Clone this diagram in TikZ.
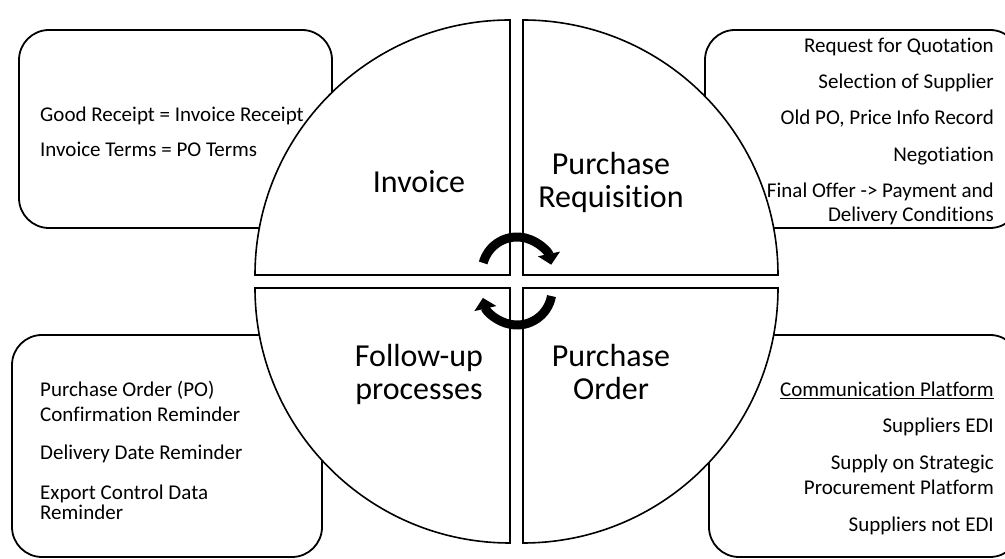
\documentclass[tikz,border=0pt]{standalone}
\usepackage{fontspec}
\setmainfont{Carlito}[Ligatures={NoCommon}]
\usetikzlibrary{arrows.meta}

\tikzset{
	infobox/.style={draw=black, line width=1.8pt, rounded corners=30pt},
	quarter/.style={draw=black, line width=1.6pt, fill=white},
	stage/.style={font=\fontsize{32}{34}\selectfont, anchor=base, inner sep=0pt},
	itemleft/.style={font=\fontsize{21}{24}\selectfont, anchor=base west, inner sep=0pt},
	itemright/.style={font=\fontsize{21}{24}\selectfont, anchor=base east, inner sep=0pt},
	turn/.style={line width=9pt, -{Triangle[length=11pt,width=22pt]}}
}

\begin{document}
\begin{tikzpicture}[x=1pt, y=1pt]
	\useasboundingbox (0,0) rectangle (1005,559);
	\clip (0,0) rectangle (1005,559);

	% side boxes, partly hidden by the circle
	\draw[infobox] (19,331) rectangle (332,529);
	\draw[infobox] (705,331) rectangle (1020,529);
	\draw[infobox] (12,2) rectangle (322,224);
	\draw[infobox] (709,2) rectangle (1020,224);

	% the four quarters of the cycle
	\draw[quarter] (510,284) -- (255,284) arc[start angle=180, end angle=90, radius=255] -- cycle;
	\draw[quarter] (523,284) -- (523,539) arc[start angle=90, end angle=0, radius=255] -- cycle;
	\draw[quarter] (510,271) -- (510,16) arc[start angle=270, end angle=180, radius=255] -- cycle;
	\draw[quarter] (523,271) -- (778,271) arc[start angle=0, end angle=-90, radius=255] -- cycle;

	\node[stage] (inv)  at (419,366) {Invoice};
	\node[stage] (req1) at (611,384) {Purchase};
	\node[stage] (req2) at (611,351) {Requisition};
	\node[stage] (fol1) at (419,192) {Follow-up};
	\node[stage] (fol2) at (419,159) {processes};
	\node[stage] (ord1) at (611,192) {Purchase};
	\node[stage] (ord2) at (611,159) {Order};

	% invoice checks
	\node[itemleft] (good)  at (40,437) {Good Receipt = Invoice Receipt};
	\node[itemleft] (terms) at (40,402) {Invoice Terms = PO Terms};

	% requisition steps
	\node[itemright] (rfq)   at (994,506) {Request for Quotation};
	\node[itemright] (sel)   at (994,470) {Selection of Supplier};
	\node[itemright] (oldpo) at (994,434) {Old PO, Price Info Record};
	\node[itemright] (nego)  at (994,397) {Negotiation};
	\node[itemright] (offer) at (994,361) {Final Offer -> Payment and};
	\node[itemright] (deliv) at (994,337) {Delivery Conditions};

	% reminders
	\node[itemleft] (po)   at (40,162) {Purchase Order (PO)};
	\node[itemleft] (conf) at (40,137) {Confirmation Reminder};
	\node[itemleft] (date) at (40,99)  {Delivery Date Reminder};
	\node[itemleft] (exp)  at (40,59)  {Export Control Data};
	\node[itemleft] (rem)  at (40,39)  {Reminder};

	% order channels
	\node[itemright] (comm)  at (994,162) {\underline{Communication Platform}};
	\node[itemright] (edi)   at (994,126) {Suppliers EDI};
	\node[itemright] (sos)   at (994,89)  {Supply on Strategic};
	\node[itemright] (plat)  at (994,64)  {Procurement Platform};
	\node[itemright] (noedi) at (994,27)  {Suppliers not EDI};

	% turning arrows in the middle
	\draw[turn] (517,287) ++(165:35) arc[start angle=165, end angle=12, radius=35];
	\draw[turn] (517,269) ++(350:35) arc[start angle=350, end angle=193, radius=35];
\end{tikzpicture}
\end{document}
